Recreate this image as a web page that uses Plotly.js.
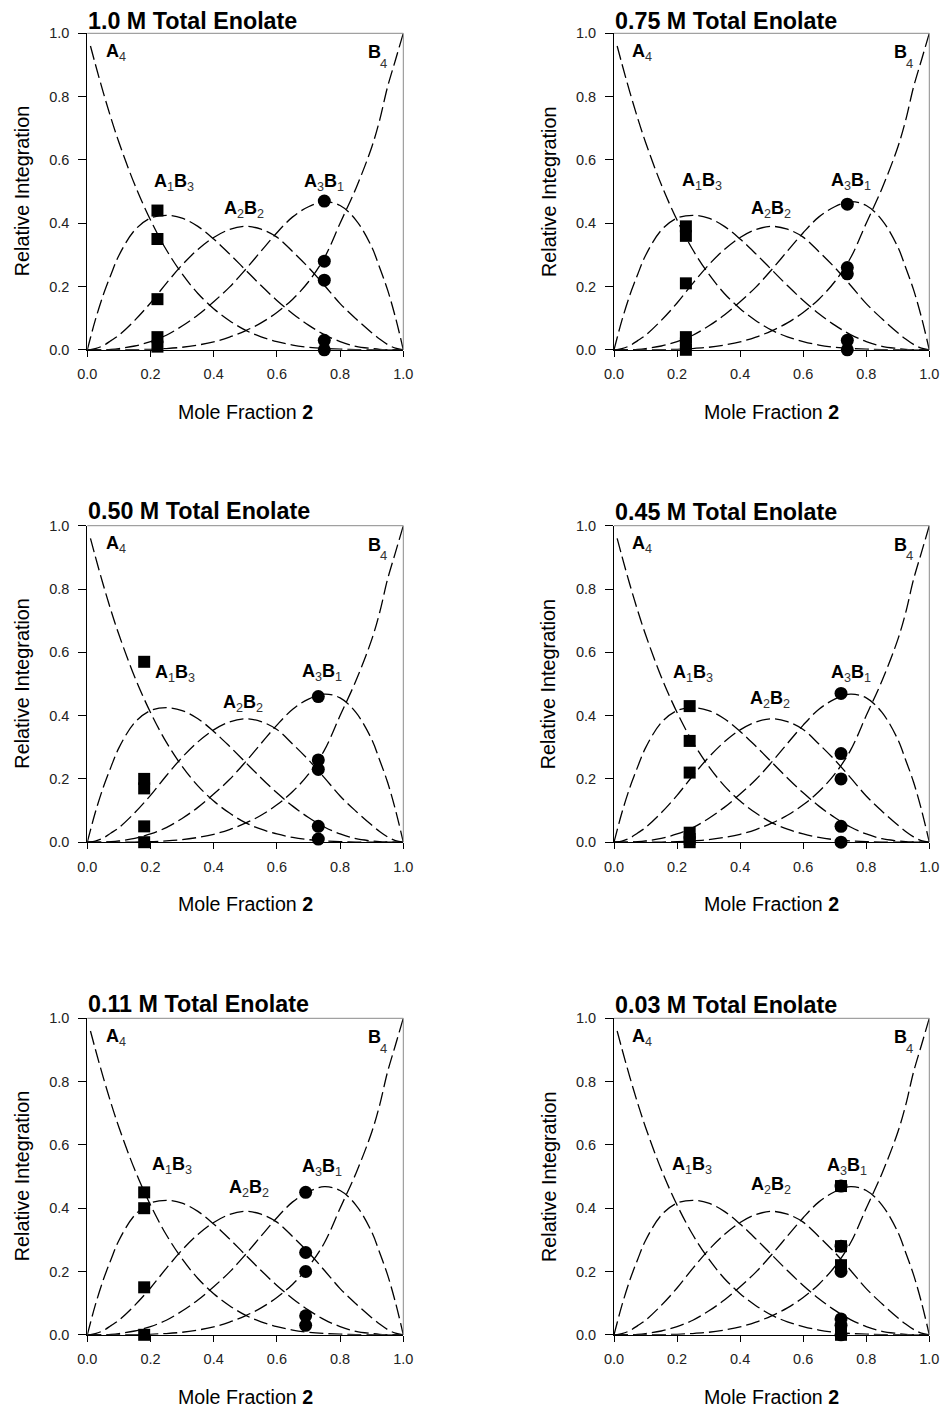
<!DOCTYPE html>
<html>
<head>
<meta charset="utf-8">
<script src="https://cdn.plot.ly/plotly-3.0.1.min.js"></script>
<style>html,body{margin:0;padding:0;background:#fff}</style>
</head>
<body>
<div id="chart" style="width:942px;height:1407px"></div>
<script>
// Statistical distribution of the mixed tetramers versus mole fraction of 2
const xFrac = [0, 0.01, 0.025, 0.05, 0.075, 0.1, 0.15, 0.2, 0.25, 0.3, 0.35, 0.4, 0.45, 0.5, 0.55, 0.6, 0.65, 0.7, 0.75, 0.8, 0.85, 0.9, 0.925, 0.95, 0.975, 1.0];
const curveA4   = [null, 0.96, 0.904, 0.815, 0.732, 0.656, 0.522, 0.41, 0.316, 0.24, 0.178, 0.13, 0.092, 0.062, 0.041, 0.026, 0.015, 0.008, 0.004, 0.002, 0.0005, 0.0001, 0, 0, 0, 0];
const curveA1B3 = [0, 0.038, 0.093, 0.172, 0.238, 0.298, 0.378, 0.416, 0.425, 0.416, 0.39, 0.35, 0.303, 0.253, 0.203, 0.156, 0.114, 0.078, 0.048, 0.026, 0.011, 0.004, 0.0015, 0.0005, 0.0001, 0];
const curveA2B2 = [0, 0.0006, 0.0036, 0.013, 0.029, 0.046, 0.093, 0.148, 0.21, 0.268, 0.317, 0.355, 0.38, 0.39, 0.381, 0.356, 0.31, 0.26, 0.204, 0.146, 0.098, 0.054, 0.034, 0.017, 0.005, 0];
const curveA3B1 = [0, 0, 0.0001, 0.0005, 0.0016, 0.004, 0.012, 0.026, 0.046, 0.075, 0.11, 0.152, 0.198, 0.253, 0.312, 0.37, 0.42, 0.452, 0.468, 0.456, 0.41, 0.325, 0.26, 0.19, 0.103, 0];
const curveB4   = [0, 0, 0, 0, 0, 0.0001, 0.0005, 0.0016, 0.004, 0.008, 0.015, 0.025, 0.04, 0.06, 0.085, 0.118, 0.16, 0.215, 0.29, 0.40, 0.51, 0.64, 0.725, 0.83, 0.915, 1.0];

// Measured integrations, one entry per enolate concentration
const panelTitles = ["1.0 M Total Enolate", "0.75 M Total Enolate", "0.50 M Total Enolate",
                     "0.45 M Total Enolate", "0.11 M Total Enolate", "0.03 M Total Enolate"];
const squareX = [0.222, 0.228, 0.18, 0.24, 0.18, 0.72];
const squareY = [
  [0.44, 0.35, 0.16, 0.04, 0.01],
  [0.39, 0.36, 0.21, 0.04, 0.02, 0.0],
  [0.57, 0.20, 0.17, 0.05, 0.0],
  [0.43, 0.32, 0.22, 0.03, 0.01, 0.0],
  [0.45, 0.40, 0.15, 0.0],
  [0.47, 0.28, 0.22, 0.02, 0.0]
];
const circleX = [0.75, 0.74, 0.731, 0.72, 0.691, 0.72];
const circleY = [
  [0.47, 0.28, 0.22, 0.03, 0.0],
  [0.46, 0.26, 0.24, 0.03, 0.0],
  [0.46, 0.26, 0.23, 0.05, 0.01],
  [0.47, 0.28, 0.20, 0.05, 0.0],
  [0.45, 0.26, 0.20, 0.06, 0.03],
  [0.47, 0.28, 0.20, 0.05, 0.03, 0.0]
];
const tickVals = [0, 0.2, 0.4, 0.6, 0.8, 1.0];
const tickText = ["0.0", "0.2", "0.4", "0.6", "0.8", "1.0"];

// Page geometry (pixels)
const W = 942, H = 1407;
const colLeft = [87.3, 614.0];
const colWidth = [316.0, 315.3];
const rowTop = [33.3, 525.7, 1018.3];
const plotH = 316.5;
const titleMid = [[20.5, 20.5], [510.5, 511.5], [1003.5, 1004.5]];

// Curve-label placement inside each panel (data units)
const lblA1B3 = [[0.273, 0.53], [0.28, 0.532], [0.278, 0.533], [0.249, 0.533], [0.267, 0.536], [0.246, 0.536]];
const lblA2B2 = [[0.496, 0.442], [0.497, 0.444], [0.494, 0.438], [0.495, 0.45], [0.511, 0.462], [0.498, 0.473]];
const lblA3B1 = [[0.75, 0.53], [0.752, 0.532], [0.744, 0.535], [0.752, 0.533], [0.744, 0.53], [0.739, 0.531]];

const FONT = "Liberation Sans, Arial, sans-serif";
const px = v => v / W;
const py = v => 1 - v / H;

const traces = [];
const layout = {
  width: W, height: H,
  margin: {l: 0, r: 0, t: 0, b: 0},
  paper_bgcolor: "#fff", plot_bgcolor: "#fff",
  showlegend: false,
  font: {family: FONT, color: "#000"},
  annotations: [], shapes: []
};

const dashLine = {color: "#000", width: 1.3, dash: "14px,5px", shape: "spline", smoothing: 1};

for (let i = 0; i < 6; i++) {
  const r = Math.floor(i / 2), c = i % 2;
  const n = i + 1;
  const xa = "x" + (n === 1 ? "" : n), ya = "y" + (n === 1 ? "" : n);
  const xKey = "xaxis" + (n === 1 ? "" : n), yKey = "yaxis" + (n === 1 ? "" : n);
  const L = colLeft[c], Wd = colWidth[c], T = rowTop[r];

  const axisCommon = {
    range: [0, 1], tickvals: tickVals, ticktext: tickText,
    ticks: "outside", tickcolor: "#000", tickwidth: 1,
    showline: true, linecolor: "#000", linewidth: 1,
    showgrid: false, zeroline: false, fixedrange: true,
    tickfont: {family: FONT, size: 14.5, color: "#222"}
  };
  layout[xKey] = Object.assign({}, axisCommon, {
    domain: [px(L), px(L + Wd)], anchor: ya, ticklen: 6, ticklabelstandoff: 5
  });
  layout[yKey] = Object.assign({}, axisCommon, {
    domain: [py(T + plotH), py(T)], anchor: xa, ticklen: 8, ticklabelstandoff: 6
  });

  // grey top and right frame edges
  layout.shapes.push({type: "line", xref: xa + " domain", yref: ya + " domain",
    x0: 0, x1: 1, y0: 1, y1: 1, line: {color: "#8a8a8a", width: 1}});
  layout.shapes.push({type: "line", xref: xa + " domain", yref: ya + " domain",
    x0: 1, x1: 1, y0: 0, y1: 1, line: {color: "#8a8a8a", width: 1}});

  [curveA4, curveA1B3, curveA2B2, curveA3B1, curveB4].forEach(cv => {
    traces.push({type: "scatter", mode: "lines", x: xFrac, y: cv, xaxis: xa, yaxis: ya,
      line: dashLine, connectgaps: false, hoverinfo: "skip"});
  });

  traces.push({type: "scatter", mode: "markers", xaxis: xa, yaxis: ya, cliponaxis: false,
    x: squareY[i].map(() => squareX[i]), y: squareY[i],
    marker: {symbol: "square", size: 12, color: "#000"}, hoverinfo: "skip"});
  traces.push({type: "scatter", mode: "markers", xaxis: xa, yaxis: ya, cliponaxis: false,
    x: circleY[i].map(() => circleX[i]), y: circleY[i],
    marker: {symbol: "circle", size: 13, color: "#000"}, hoverinfo: "skip"});

  const A = layout.annotations;
  // panel title
  A.push({xref: "paper", yref: "paper", x: px(L - 1), y: py(titleMid[r][c]),
    xanchor: "left", yanchor: "middle", showarrow: false,
    text: "<b>" + panelTitles[i] + "</b>", font: {family: FONT, size: 23.3, color: "#000"}});
  // axis titles
  A.push({xref: "paper", yref: "paper", x: px(L + Wd / 2), y: py(T + plotH + 62),
    xanchor: "center", yanchor: "middle", showarrow: false,
    text: "Mole Fraction <b>2</b>", font: {family: FONT, size: 19.6, color: "#000"}});
  A.push({xref: "paper", yref: "paper", x: px(L - 65.6), y: py(T + plotH / 2),
    xanchor: "center", yanchor: "middle", showarrow: false, textangle: -90,
    text: "Relative Integration", font: {family: FONT, size: 19.8, color: "#000"}});

  // curve labels
  const lf = {family: FONT, size: 18, color: "#000"};
  const sub = d => "<sub><span style='font-weight:normal;color:#333'>" + d + "</span></sub>";
  A.push({xref: xa, yref: ya, x: 0.052, y: 0.94, xanchor: "left", yanchor: "middle",
    showarrow: false, text: "<b>A</b>" + sub("4"), font: lf});
  A.push({xref: xa, yref: ya, x: 0.882, y: 0.94, xanchor: "left", yanchor: "middle",
    showarrow: false, text: "<b>B</b>", font: lf});
  A.push({xref: xa, yref: ya, x: 0.937, y: 0.905, xanchor: "center", yanchor: "middle",
    showarrow: false, text: "4", font: {family: FONT, size: 13, color: "#333"}});
  A.push({xref: xa, yref: ya, x: lblA1B3[i][0], y: lblA1B3[i][1], xanchor: "center", yanchor: "middle",
    showarrow: false, text: "<b>A</b>" + sub("1") + "<b>B</b>" + sub("3"), font: lf});
  A.push({xref: xa, yref: ya, x: lblA2B2[i][0], y: lblA2B2[i][1], xanchor: "center", yanchor: "middle",
    showarrow: false, text: "<b>A</b>" + sub("2") + "<b>B</b>" + sub("2"), font: lf});
  A.push({xref: xa, yref: ya, x: lblA3B1[i][0], y: lblA3B1[i][1], xanchor: "center", yanchor: "middle",
    showarrow: false, text: "<b>A</b>" + sub("3") + "<b>B</b>" + sub("1"), font: lf});
}

Plotly.newPlot("chart", traces, layout, {staticPlot: true, displayModeBar: false});
</script>
</body>
</html>
